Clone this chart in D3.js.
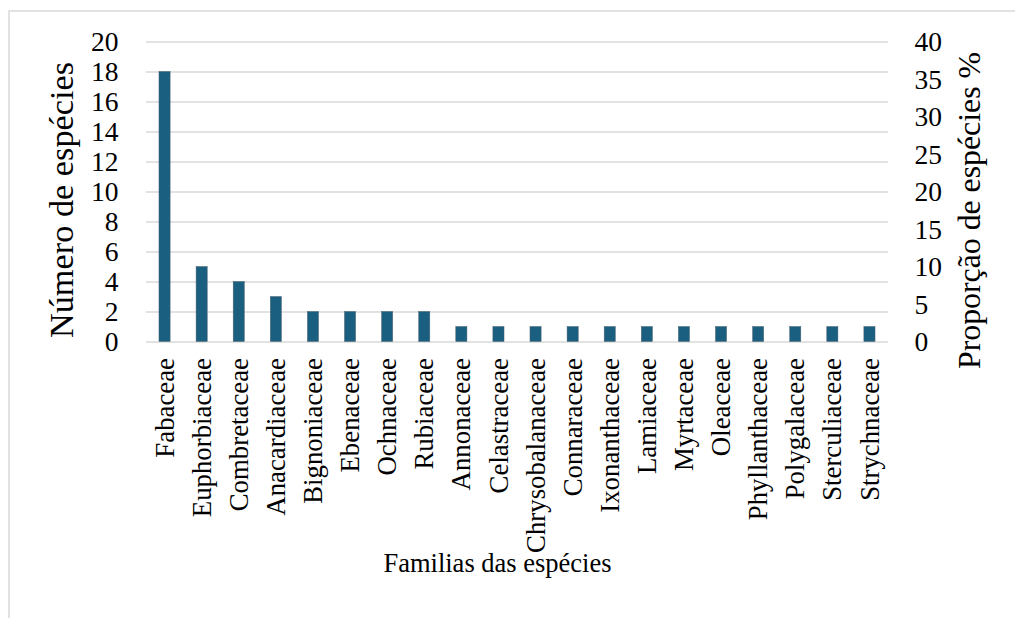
<!DOCTYPE html>
<html>
<head>
<meta charset="utf-8">
<script src="https://cdn.jsdelivr.net/npm/d3@7"></script>
<style>
  html, body { margin: 0; padding: 0; background: #fff; }
  svg { display: block; }
  svg text { font-family: "Liberation Serif", "Times New Roman", serif !important; fill: #000; }
</style>
</head>
<body>
<svg id="chart" width="1015" height="618"></svg>
<script>
// Plant families and number of species in each
const families = [
  "Fabaceae", "Euphorbiaceae", "Combretaceae", "Anacardiaceae", "Bignoniaceae",
  "Ebenaceae", "Ochnaceae", "Rubiaceae", "Annonaceae", "Celastraceae",
  "Chrysobalanaceae", "Connaraceae", "Ixonanthaceae", "Lamiaceae", "Myrtaceae",
  "Oleaceae", "Phyllanthaceae", "Polygalaceae", "Sterculiaceae", "Strychnaceae"
];
const speciesCount = [18, 5, 4, 3, 2, 2, 2, 2, 1, 1, 1, 1, 1, 1, 1, 1, 1, 1, 1, 1];

const leftTicks = [0, 2, 4, 6, 8, 10, 12, 14, 16, 18, 20];
const rightTicks = [0, 5, 10, 15, 20, 25, 30, 35, 40];

const svg = d3.select("#chart");
const plot = { left: 146, right: 888, top: 41.5, bottom: 341.5 };

// outer chart frame
svg.append("rect")
  .attr("x", 9).attr("y", 11)
  .attr("width", 1030).attr("height", 640)
  .attr("fill", "none")
  .attr("stroke", "#d9d9d9")
  .attr("stroke-width", 1.5);

const x = d3.scaleBand()
  .domain(families)
  .range([plot.left, plot.right])
  .padding(0);

const yLeft = d3.scaleLinear().domain([0, 20]).range([plot.bottom, plot.top]);
const yRight = d3.scaleLinear().domain([0, 40]).range([plot.bottom, plot.top]);

// horizontal gridlines
svg.append("g")
  .attr("transform", `translate(${plot.left},0)`)
  .call(d3.axisLeft(yLeft).tickValues(leftTicks).tickSize(-(plot.right - plot.left)).tickFormat(""))
  .call(g => g.select(".domain").remove())
  .call(g => g.selectAll("line").attr("stroke", "#d9d9d9").attr("stroke-width", 1.5));

// bars
const barW = x.bandwidth() * 0.3;
svg.append("g")
  .selectAll("rect")
  .data(families.map((f, i) => ({ f, v: speciesCount[i] })))
  .join("rect")
  .attr("x", d => x(d.f) + (x.bandwidth() - barW) / 2)
  .attr("y", d => yLeft(d.v))
  .attr("width", barW)
  .attr("height", d => yLeft(0) - yLeft(d.v))
  .attr("fill", "#1a5e80")
  .attr("stroke", "#4f6470")
  .attr("stroke-width", 0.5);

const serif = "'Liberation Serif', 'Times New Roman', serif";

// left axis labels
svg.append("g")
  .attr("transform", "translate(118.5,0)")
  .call(d3.axisLeft(yLeft).tickValues(leftTicks).tickSize(0).tickPadding(0))
  .call(g => g.select(".domain").remove())
  .call(g => g.selectAll("text")
    .style("font-family", serif)
    .attr("font-size", 27.5)
    .attr("fill", "#000")
    .attr("dy", "0.34em"));

// right axis labels
svg.append("g")
  .attr("transform", "translate(914.5,0)")
  .call(d3.axisRight(yRight).tickValues(rightTicks).tickSize(0).tickPadding(0))
  .call(g => g.select(".domain").remove())
  .call(g => g.selectAll("text")
    .style("font-family", serif)
    .attr("font-size", 27.5)
    .attr("fill", "#000")
    .attr("dy", "0.34em"));

// category axis, labels rotated
svg.append("g")
  .attr("transform", `translate(0,${plot.bottom})`)
  .call(d3.axisBottom(x).tickSize(0).tickPadding(0))
  .call(g => g.select(".domain").remove())
  .call(g => g.selectAll("text")
    .style("font-family", serif)
    .attr("font-size", 26.8)
    .attr("fill", "#000")
    .attr("text-anchor", "end")
    .attr("transform", "rotate(-90)")
    .attr("x", -16.5)
    .attr("y", 0)
    .attr("dy", "0.34em"));

// axis titles
svg.append("text")
  .attr("transform", "translate(73,200) rotate(-90)")
  .attr("text-anchor", "middle")
  .style("font-family", serif)
  .attr("font-size", 34.3)
  .text("Número de espécies");

svg.append("text")
  .attr("transform", "translate(980,210.5) rotate(-90)")
  .attr("text-anchor", "middle")
  .style("font-family", serif)
  .attr("font-size", 31.8)
  .text("Proporção de espécies %");

svg.append("text")
  .attr("x", 497.5)
  .attr("y", 571.5)
  .attr("text-anchor", "middle")
  .style("font-family", serif)
  .attr("font-size", 26.5)
  .text("Familias das espécies");
</script>
</body>
</html>
